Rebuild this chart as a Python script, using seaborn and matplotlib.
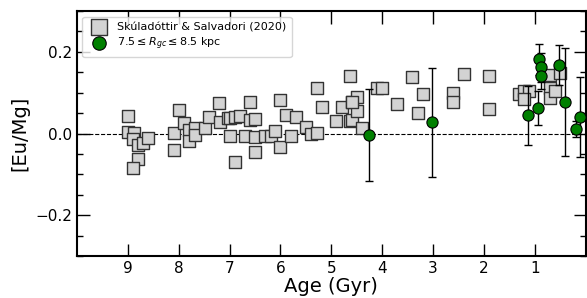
import seaborn as sns
import pandas as pd
import matplotlib.pyplot as plt
from matplotlib.ticker import MultipleLocator

# Skuladottir & Salvadori (2020) sample
sk_age = [8.99, 8.99, 8.88, 8.90, 8.80, 8.70, 8.60, 8.80, 8.90,
          8.00, 8.10, 8.10, 7.89, 7.80, 7.80, 7.68, 7.68, 7.49, 7.40,
          7.21, 7.19, 7.03, 7.00, 7.00, 6.90, 6.80, 6.90, 6.60, 6.60,
          6.50, 6.70, 6.50, 6.50, 6.31, 6.18, 6.11, 6.00, 6.00, 5.90,
          5.80, 5.70, 5.50, 5.40, 5.29, 5.29, 5.19, 4.90, 4.80, 4.64,
          4.64, 4.60, 4.50, 4.60, 4.50, 4.60, 4.40, 4.10, 4.00, 3.71,
          3.41, 3.20, 3.30, 2.61, 2.61, 2.40, 1.90, 1.90, 1.31, 1.21,
          1.12, 1.21, 0.71, 0.51, 0.71, 0.71, 0.61]
sk_eumg = [0.042, 0.003, 0.002, -0.014, -0.028, -0.023, -0.012, -0.063, -0.085,
           0.058, 0.002, -0.040, 0.025, 0.009, -0.018, 0.014, -0.004, 0.013, 0.040,
           0.074, 0.028, 0.039, -0.006, 0.037, 0.041, 0.043, -0.069, 0.078, 0.033,
           0.035, -0.006, -0.008, -0.045, -0.006, -0.006, 0.007, 0.081, -0.034, 0.045,
           -0.006, 0.041, 0.017, -0.001, 0.002, 0.111, 0.064, 0.031, 0.064, 0.140,
           0.031, 0.077, 0.090, 0.033, 0.056, 0.078, 0.014, 0.111, 0.111, 0.072,
           0.138, 0.097, 0.050, 0.100, 0.076, 0.145, 0.141, 0.060, 0.097, 0.103,
           0.103, 0.085, 0.144, 0.148, 0.111, 0.088, 0.105]

# Solar-neighbourhood open clusters, 7.5 <= Rgc <= 8.5 kpc
oc_age = [4.27, 3.02, 1.135, 0.94, 0.92, 0.886, 0.886, 0.525, 0.41, 0.20, 0.106]
oc_eumg = [-0.004, 0.027, 0.045, 0.062, 0.182, 0.162, 0.140, 0.167, 0.077, 0.011, 0.041]
oc_err = [0.112, 0.134, 0.072, 0.042, 0.038, 0.035, 0.031, 0.049, 0.132, 0.020, 0.098]

sk = pd.DataFrame({"age": sk_age, "eumg": sk_eumg})
oc = pd.DataFrame({"age": oc_age, "eumg": oc_eumg, "err": oc_err})

fig = plt.figure(figsize=(5.87, 2.98), dpi=100)
ax = fig.add_axes([0.131, 0.141, 0.867, 0.822])

ax.axhline(0, color="black", linestyle="--", linewidth=0.8, zorder=1)

sns.scatterplot(
    data=sk, x="age", y="eumg", marker="s", s=85,
    color="lightgray", edgecolor="0.2", linewidth=1.0,
    label="Skúladóttir & Salvadori (2020)", ax=ax, zorder=2,
)
ax.errorbar(
    oc["age"], oc["eumg"], yerr=oc["err"], fmt="none",
    ecolor="black", elinewidth=1.0, capsize=3, capthick=1.0, zorder=3,
)
sns.scatterplot(
    data=oc, x="age", y="eumg", marker="o", s=65,
    color="green", edgecolor="black", linewidth=0.8,
    label=r"$7.5 \leq R_{gc} \leq 8.5$ kpc", ax=ax, zorder=4,
)

ax.set_xlim(10, 0)
ax.set_ylim(-0.3, 0.3)
ax.set_xticks(range(1, 10))
ax.set_yticks([-0.2, 0.0, 0.2])
ax.yaxis.set_minor_locator(MultipleLocator(0.05))

ax.tick_params(which="both", direction="in", top=True, right=True, labelsize=11)
ax.tick_params(which="major", length=9, width=1)
ax.tick_params(which="minor", length=4.5, width=1)
for spine in ax.spines.values():
    spine.set_linewidth(1.5)

ax.set_xlabel("Age (Gyr)", fontsize=14, labelpad=1)
ax.set_ylabel("[Eu/Mg]", fontsize=14)

ax.legend(loc="upper left", fontsize=8, frameon=True, handletextpad=0.6,
          borderpad=0.5, labelspacing=0.3, markerscale=1.2)

fig.savefig("out.png", dpi=100)
